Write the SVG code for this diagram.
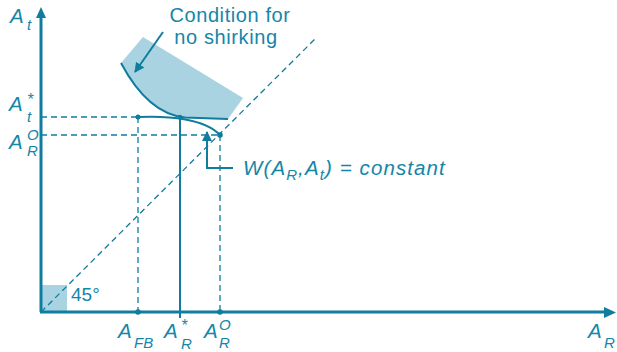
<svg xmlns="http://www.w3.org/2000/svg" width="617" height="352" viewBox="0 0 617 352">
<style>
.ax{stroke:#107c9e;stroke-width:3;fill:none}
.ln{stroke:#107c9e;stroke-width:2;fill:none}
.ds{stroke:#107c9e;stroke-width:1.3;fill:none;stroke-dasharray:6 4}
.dot{fill:#107c9e}
text{font-family:"Liberation Sans",Arial,sans-serif;fill:#1486a8}
.lb{font-size:20px;letter-spacing:0.6px}
.m{font-style:italic;font-size:20.5px}
.s{font-style:italic;font-size:15px}
.st{font-size:16px}
</style>
<defs>
<marker id="ah" viewBox="0 0 10 10" refX="9" refY="5" markerWidth="10" markerHeight="10" markerUnits="userSpaceOnUse" orient="auto">
<path d="M0,0 L10,5 L0,10 Z" fill="#107c9e"/>
</marker>
</defs>
<g id="regions">
<path id="no-shirking-region" d="M121,63 L143,37 L243,98 L228,119 L185,117.5 C160,115 138,95 121,63 Z" fill="#a9d3e1"/>
<rect id="angle-box" x="41" y="285" width="26" height="27" fill="#a9d3e1"/>
</g>
<g id="connectors">
<line class="ds" x1="41" y1="312" x2="315" y2="39"/>
<line class="ds" x1="41" y1="117" x2="138" y2="117"/>
<line class="ds" x1="41" y1="135" x2="220" y2="135"/>
<line class="ds" x1="138" y1="117" x2="138" y2="312"/>
<line class="ds" x1="220" y1="135" x2="220" y2="312"/>
<line class="ln" x1="180" y1="117" x2="180" y2="318"/>
<path class="ln" d="M121,63 C138,95 160,115 185,117.5 L228,119"/>
<path class="ln" d="M138,117 C170,115.5 205,119 220,135"/>
<line class="ln" x1="163" y1="32" x2="135" y2="72" marker-end="url(#ah)"/>
<polyline class="ln" points="233,168 207,168 207,132" marker-end="url(#ah)"/>
<line class="ax" x1="41" y1="312" x2="41" y2="18"/>
<path d="M36,18 L41,7 L46,18 Z" fill="#107c9e"/>
<line class="ax" x1="40" y1="312" x2="605" y2="312"/>
<path d="M604,307 L616,312.5 L604,318 Z" fill="#107c9e"/>
</g>
<g id="points">
<circle class="dot" cx="138" cy="117" r="2.5"/>
<circle class="dot" cx="180" cy="117" r="2.2"/>
<circle class="dot" cx="220" cy="135" r="2.8"/>
<circle class="dot" cx="138" cy="312" r="2.8"/>
<circle class="dot" cx="220" cy="312" r="2.8"/>
</g>
<g id="labels">
<text class="lb" x="230" y="22" text-anchor="middle">Condition for</text>
<text class="lb" x="226" y="44" text-anchor="middle">no shirking</text>
<text x="71" y="301" font-size="19">45°</text>
<text class="m" x="10" y="23">A</text><text class="s" x="27" y="30">t</text>
<text class="m" x="9" y="111">A</text><text class="s st" x="27" y="105">*</text><text class="s" x="27" y="122">t</text>
<text class="m" x="9" y="149">A</text><text class="s" x="27" y="140">O</text><text class="s" x="27" y="156">R</text>
<text class="m" x="118" y="338">A</text><text class="s" x="134" y="348">FB</text>
<text class="m" x="164" y="338">A</text><text class="s st" x="181" y="331">*</text><text class="s" x="181" y="349">R</text>
<text class="m" x="204" y="338">A</text><text class="s" x="219" y="330">O</text><text class="s" x="219" y="348">R</text>
<text class="m" x="588" y="338">A</text><text class="s" x="604" y="348">R</text>
<text class="m" x="243" y="175" letter-spacing="1.1">W(A<tspan class="s" dy="5">R</tspan><tspan dy="-5">,A</tspan><tspan class="s" dy="5">t</tspan><tspan dy="-5">) = constant</tspan></text>
</g>
</svg>
